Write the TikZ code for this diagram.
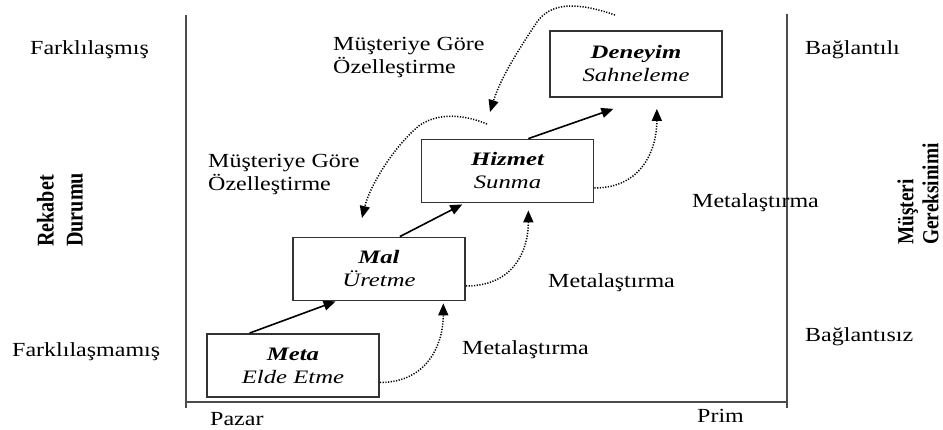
\documentclass[tikz,border=0pt]{standalone}
\usepackage{fontspec}
\setmainfont{Liberation Serif}[FakeStretch=1.2]
\newfontfamily\stagefont{Liberation Serif}[FakeStretch=1.3]
\newfontfamily\axisfont{Liberation Serif}[FakeStretch=0.84]
\usetikzlibrary{arrows.meta,calc}

\begin{document}
\begin{tikzpicture}[x=1pt,y=-1pt,
  stage/.style={draw=black!80,line width=1.8pt,minimum width=172pt,minimum height=63pt,
    inner sep=0pt,align=center,font=\stagefont\fontsize{19}{23}\selectfont},
  lbl/.style={font=\fontsize{20}{23}\selectfont,inner sep=0pt,align=left,anchor=west},
  axislbl/.style={font=\axisfont\bfseries\fontsize{24}{27}\selectfont,inner sep=0pt,align=left,rotate=90,anchor=west},
  frameline/.style={draw=black!70,line width=2pt},
  flow/.style={line width=1.6pt,-{Triangle[length=12pt,width=10pt]}},
  dotflow/.style={line width=1.5pt,dash pattern=on 1.2pt off 1.5pt,-{Triangle[length=12pt,width=10pt]}}]

\useasboundingbox (0,0) rectangle (943,430);

% axes frame
\draw[frameline] (186,15) -- (186,408);
\draw[frameline] (787,14) -- (787,408);
\draw[frameline] (186,402) -- (787,402);

% stages of economic value
\node[stage] (meta) at (293,365.5) {{\bfseries\itshape Meta}\\{\itshape Elde Etme}};
\node[stage] (mal) at (379,269) {{\bfseries\itshape Mal}\\{\itshape Üretme}};
\node[stage] (hiz) at (507.5,171) {{\bfseries\itshape Hizmet}\\{\itshape Sunma}};
\node[stage,minimum height=66pt] (den) at (636,64) {{\bfseries\itshape Deneyim}\\{\itshape Sahneleme}};

% progression arrows
\draw[flow] ($(meta.north west)!0.25!(meta.north east)$) -- ($(mal.south west)!0.25!(mal.south east)$);
\draw[flow] ($(mal.north west)!0.62!(mal.north east)$) -- ($(hiz.south west)!0.24!(hiz.south east)+(0,1)$);
\draw[flow] ($(hiz.north west)!0.62!(hiz.north east)$) -- ($(den.south west)!0.37!(den.south east)+(0,11)$);

% commoditization
\draw[dotflow] ($(meta.east)+(0,17)$) .. controls +(48,0) and +(0,40) .. ($(mal.south west)!0.87!(mal.south east)+(0,2)$);
\draw[dotflow] ($(mal.east)+(0,17)$) .. controls +(48,0) and +(0,40) .. ($(hiz.south west)!0.62!(hiz.south east)+(0,7)$);
\draw[dotflow] ($(hiz.east)+(0,17)$) .. controls +(48,0) and +(0,40) .. ($(den.south west)!0.62!(den.south east)+(0,11)$);

% customization
\coordinate (cuA) at (615,15);
\coordinate (cuAend) at (490,112);
\coordinate (cuB) at (487,124);
\coordinate (cuBend) at (362,218);
\draw[dotflow] (cuA) .. controls (580,3) and (550,0) .. (535,25) .. controls (515,55) and (500,80) .. (cuAend);
\draw[dotflow] (cuB) .. controls (465,115) and (440,112) .. (420,125) .. controls (395,145) and (370,185) .. (cuBend);

% labels
\node[lbl] (cust1) at (333,58) {Müşteriye Göre\\Özelleştirme};
\node[lbl] (cust2) at (208,175) {Müşteriye Göre\\Özelleştirme};
\node[lbl] (com1) at (692,203) {Metalaştırma};
\node[lbl] (com2) at (548,283) {Metalaştırma};
\node[lbl] (com3) at (462,350) {Metalaştırma};

\node[lbl] (diff) at (30,50) {Farklılaşmış};
\node[lbl] (undiff) at (12,352) {Farklılaşmamış};
\node[lbl] (rel) at (805,50) {Bağlantılı};
\node[lbl] (irrel) at (805,337) {Bağlantısız};
\node[lbl] (market) at (210,419) {Pazar};
\node[lbl] (premium) at (697,416) {Prim};

\node[axislbl,font=\axisfont\bfseries\fontsize{24}{29}\selectfont] (comp) at (60,247) {Rekabet\\Durumu};
\node[axislbl,font=\axisfont\bfseries\fontsize{23}{25}\selectfont] (need) at (918,245) {Müşteri\\Gereksinimi};
\end{tikzpicture}
\end{document}
